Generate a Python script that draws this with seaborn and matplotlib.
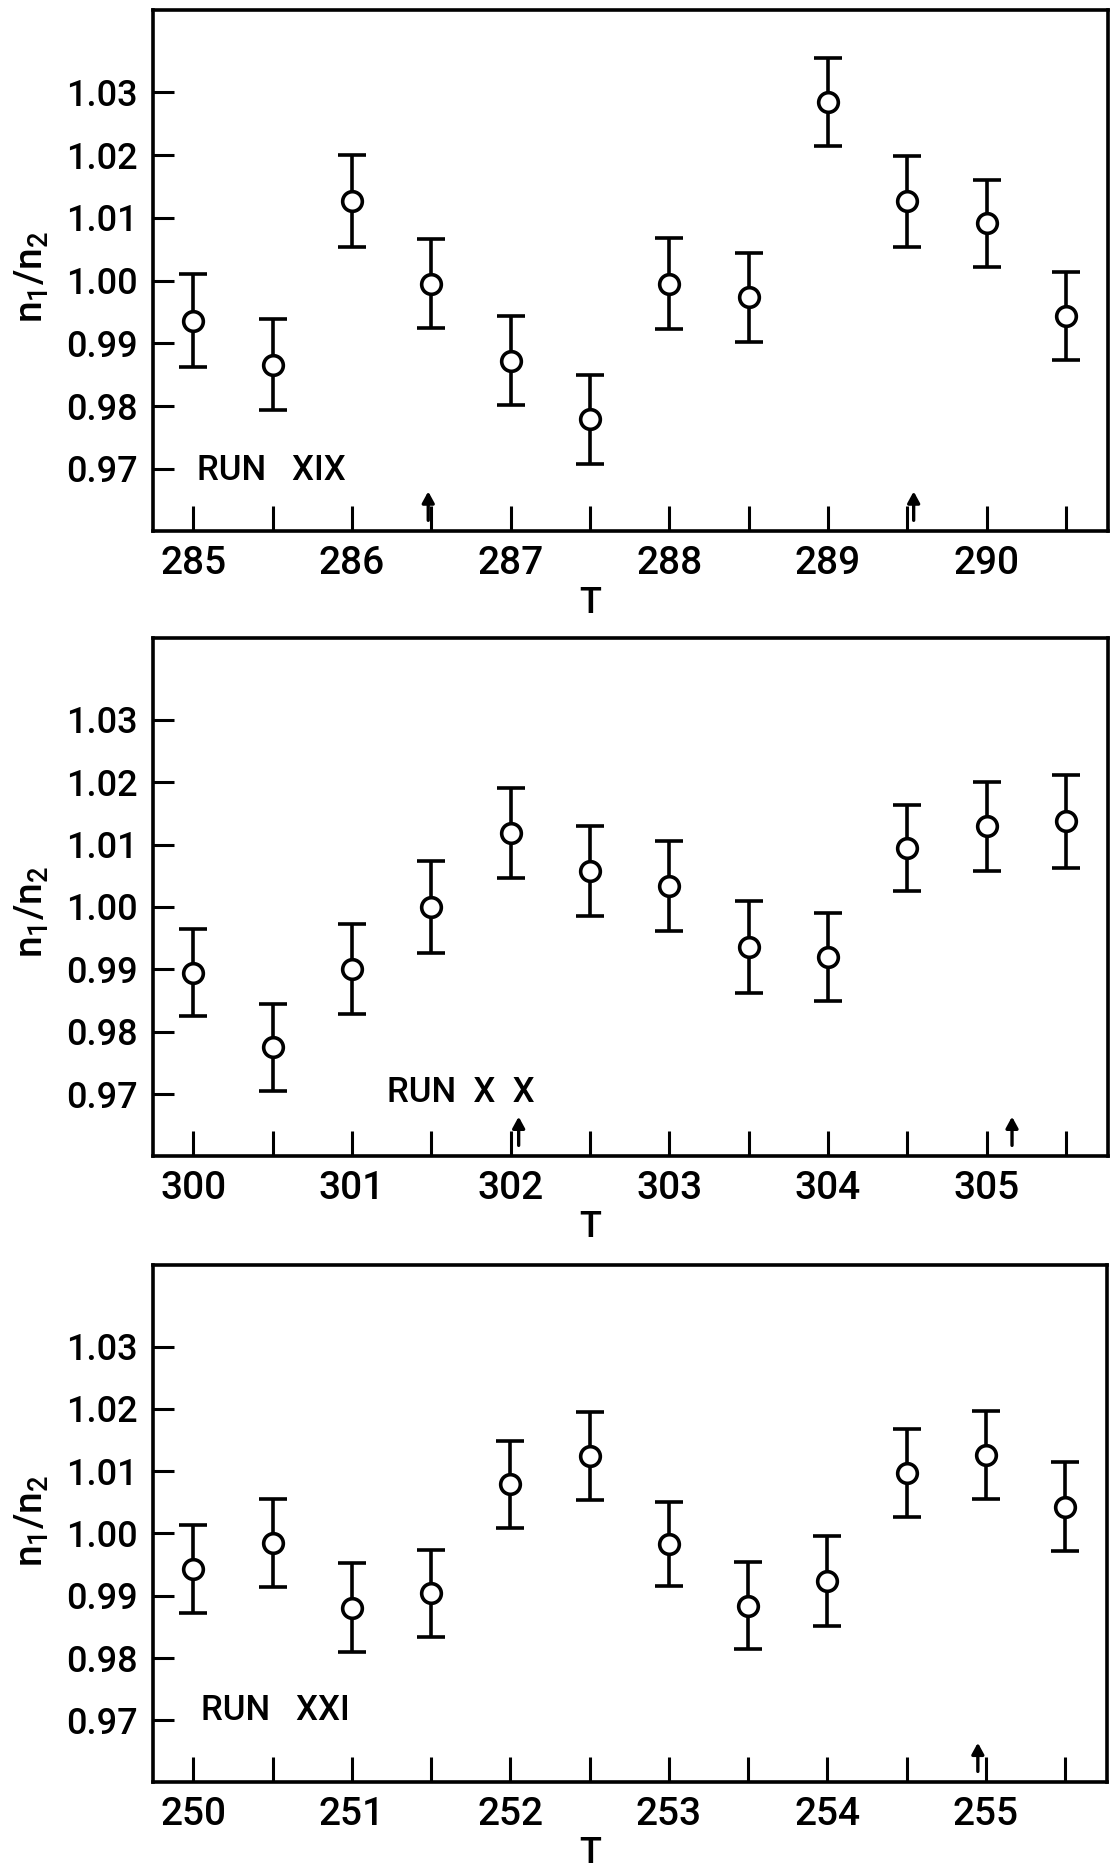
import numpy as np
import pandas as pd
import matplotlib
matplotlib.use("Agg")
import matplotlib.pyplot as plt
import seaborn as sns
from matplotlib.ticker import MultipleLocator, FuncFormatter

# ---------------- data ----------------
T_run19 = [285.0, 285.5, 286.0, 286.5, 287.0, 287.5, 288.0, 288.5, 289.0, 289.5, 290.0, 290.5]
ratio_run19 = [0.9936, 0.9866, 1.0127, 0.9995, 0.9872, 0.9779, 0.9995, 0.9973, 1.0285, 1.0126, 1.0091, 0.9943]
err_run19 = [0.0074, 0.0072, 0.0073, 0.0071, 0.0071, 0.0071, 0.0072, 0.0071, 0.0070, 0.0072, 0.0069, 0.0070]

T_run20 = [300.0, 300.5, 301.0, 301.5, 302.0, 302.5, 303.0, 303.5, 304.0, 304.5, 305.0, 305.5]
ratio_run20 = [0.9895, 0.9775, 0.9900, 1.0000, 1.0118, 1.0057, 1.0034, 0.9936, 0.9920, 1.0095, 1.0129, 1.0137]
err_run20 = [0.0070, 0.0070, 0.0072, 0.0073, 0.0072, 0.0072, 0.0072, 0.0074, 0.0071, 0.0069, 0.0072, 0.0074]

T_run21 = [250.0, 250.5, 251.0, 251.5, 252.0, 252.5, 253.0, 253.5, 254.0, 254.5, 255.0, 255.5]
ratio_run21 = [0.9943, 0.9985, 0.9881, 0.9904, 1.0079, 1.0124, 0.9983, 0.9884, 0.9924, 1.0097, 1.0126, 1.0043]
err_run21 = [0.0071, 0.0071, 0.0071, 0.0070, 0.0070, 0.0071, 0.0068, 0.0070, 0.0072, 0.0070, 0.0071, 0.0071]

run_labels = ["RUN   XIX", "RUN  X  X", "RUN   XXI"]
label_pos = [(285.02, 0.9697), (301.22, 0.9702), (250.05, 0.9716)]
arrow_T = [[286.48, 289.54], [302.05, 305.16], [254.95]]
x_start = [285, 300, 250]

y_ticks = [0.97, 0.98, 0.99, 1.00, 1.01, 1.02, 1.03]
y_ticklabels = ["0.97", "0.98", "0.99", "1.00", "1.01", "1.02", "1.03"]

runs = [
    (T_run19, ratio_run19, err_run19),
    (T_run20, ratio_run20, err_run20),
    (T_run21, ratio_run21, err_run21),
]

# ---------------- style ----------------
sns.set_theme(style="ticks")
plt.rcParams["font.family"] = ["Roboto", "Liberation Sans", "DejaVu Sans"]
plt.rcParams["font.weight"] = "medium"
plt.rcParams["mathtext.fontset"] = "custom"
plt.rcParams["mathtext.rm"] = "Roboto:medium"

W, H = 1110, 1868
fig = plt.figure(figsize=(W / 100, H / 100), dpi=100)
fig.patch.set_facecolor("white")

# axes rectangles in pixels (left, top, right, bottom)
rects_px = [(153, 10, 1108, 531), (153, 638, 1108, 1156), (153, 1265, 1107, 1782)]
ylabel_y = [0.488, 0.472, 0.505]

for i, ((T, r, e), (l, t, rt, b)) in enumerate(zip(runs, rects_px)):
    ax = fig.add_axes([l / W, 1 - b / H, (rt - l) / W, (b - t) / H])
    ax.set_facecolor("white")
    df = pd.DataFrame({"T": T, "ratio": r, "err": e})

    ax.errorbar(df["T"], df["ratio"], yerr=df["err"], fmt="none",
                ecolor="black", elinewidth=2.6, capsize=10, capthick=2.6, zorder=2)
    sns.scatterplot(data=df, x="T", y="ratio", ax=ax, s=200, marker="o",
                    facecolor="white", edgecolor="black", linewidth=2.6, zorder=3,
                    legend=False)

    x0 = x_start[i]
    ax.set_xlim(x0 - 0.255, x0 + 5.765)
    ax.set_ylim(0.9601, 1.0431)

    ax.xaxis.set_major_locator(MultipleLocator(0.5))
    ax.xaxis.set_major_formatter(FuncFormatter(
        lambda v, p: f"{int(round(v))}" if abs(v - round(v)) < 1e-6 else ""))
    ax.set_yticks(y_ticks)
    ax.set_yticklabels(y_ticklabels)

    ax.tick_params(axis="x", direction="in", length=18, width=2.2, pad=10,
                   labelsize=28, colors="black", bottom=True, top=False)
    ax.tick_params(axis="y", direction="in", length=15, width=2.2, pad=11,
                   labelsize=26, colors="black", left=True, right=False)
    for sp in ax.spines.values():
        sp.set_visible(True)
        sp.set_linewidth(2.6)
        sp.set_color("black")

    ax.set_xlabel("")
    ax.set_ylabel("")
    ax.text(-0.127, ylabel_y[i], r"$\mathregular{n_1/n_2}$", transform=ax.transAxes,
            rotation=90, ha="center", va="center", fontsize=28, color="black")
    ax.text(0.458, -0.105, "T", transform=ax.transAxes, ha="center", va="top",
            fontsize=26, color="black")

    lx, ly = label_pos[i]
    ax.text(lx, ly, run_labels[i], ha="left", va="center", fontsize=25, color="black")

    for xa in arrow_T[i]:
        ax.annotate("", xy=(xa, 0.9664), xytext=(xa, 0.9618),
                    arrowprops=dict(arrowstyle="-|>,head_length=0.55,head_width=0.3",
                                    color="black", lw=2.4, shrinkA=0, shrinkB=0))

fig.savefig("out.png", dpi=100, facecolor="white")
